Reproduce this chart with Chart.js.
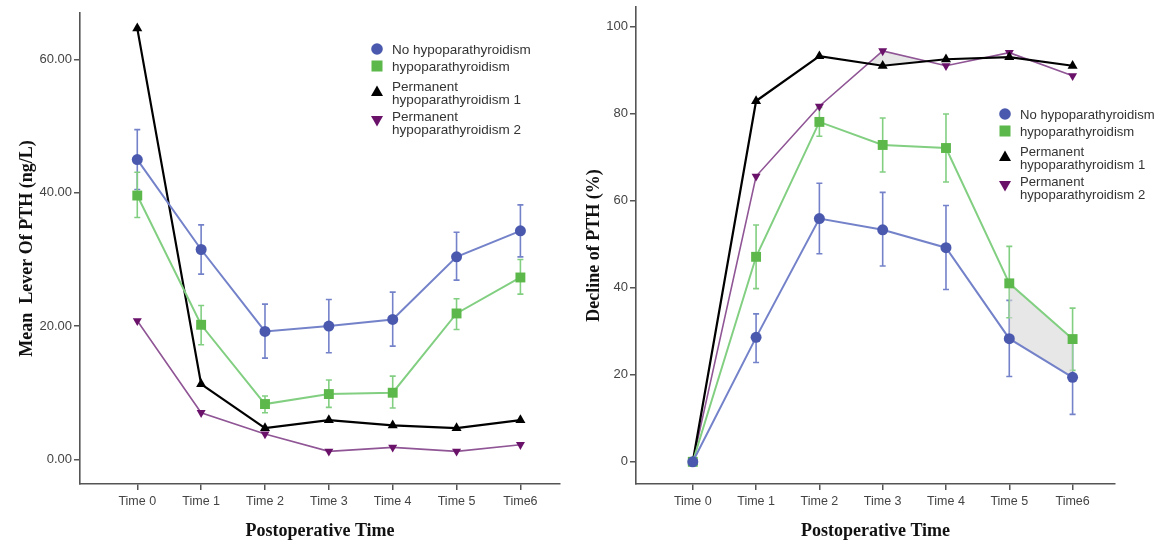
<!DOCTYPE html>
<html><head><meta charset="utf-8">
<script src="https://cdn.jsdelivr.net/npm/chart.js@4"></script>
<style>
html,body{margin:0;padding:0;background:#fff;width:1158px;height:543px;overflow:hidden}
#wrap{position:relative;width:1158px;height:543px;background:#fff}
canvas{position:absolute;top:0}
.legend{position:absolute;font-family:"Liberation Sans",Arial,sans-serif;font-size:13.5px;color:#333;line-height:13.3px}
.item{position:absolute;left:0;white-space:pre}
.item svg{position:absolute;overflow:visible}
</style></head>
<body><div id="wrap">
<canvas id="c1" width="580" height="543" style="left:0"></canvas>
<canvas id="c2" width="578" height="543" style="left:580px"></canvas>
<div id="leg1" class="legend" style="left:392px;top:42.5px"></div>
<div id="leg2" class="legend" style="left:1020px;top:107.5px;font-size:13.1px"></div>
</div>
<script>
// ---------- data ----------
const categories = ['Time 0','Time 1','Time 2','Time 3','Time 4','Time 5','Time6'];
const seriesNames = ['No hypoparathyroidism','hypoparathyroidism','Permanent\nhypoparathyroidism 1','Permanent\nhypoparathyroidism 2'];

// Left chart: Mean level of PTH (ng/L)
const levelNoHypo     = [45.0, 31.5, 19.2, 20.0, 21.0, 30.4, 34.3];
const levelNoHypoLow  = [40.5, 27.8, 15.2, 16.0, 17.0, 26.9, 30.4];
const levelNoHypoHigh = [49.5, 35.2, 23.3, 24.0, 25.1, 34.1, 38.2];
const levelHypo       = [39.6, 20.2, 8.3, 9.8, 10.0, 21.9, 27.3];
const levelHypoLow    = [36.3, 17.2, 7.0, 7.8, 7.7, 19.5, 24.8];
const levelHypoHigh   = [43.1, 23.1, 9.5, 11.9, 12.5, 24.1, 30.0];
const levelPerm1      = [64.7, 11.3, 4.7, 5.9, 5.1, 4.7, 5.9];
const levelPerm2      = [20.8, 7.0, 3.8, 1.2, 1.8, 1.2, 2.2];
const levelTicks      = [0, 20, 40, 60];

// Right chart: Decline of PTH (%)
const declineNoHypo     = [0, 28.6, 55.9, 53.3, 49.2, 28.3, 19.4];
const declineNoHypoLow  = [0, 22.8, 47.8, 45.0, 39.6, 19.6, 10.9];
const declineNoHypoHigh = [0, 34.0, 64.0, 61.9, 58.9, 37.1, 27.9];
const declineHypo       = [0, 47.1, 78.1, 72.8, 72.1, 41.0, 28.2];
const declineHypoLow    = [0, 39.8, 74.8, 66.6, 64.3, 33.1, 21.0];
const declineHypoHigh   = [0, 54.4, 81.4, 79.0, 79.9, 49.5, 35.3];
const declinePerm1      = [0, 82.9, 93.2, 91.0, 92.5, 93.0, 91.0];
const declinePerm2      = [0, 65.6, 81.7, 94.4, 91.0, 94.0, 88.7];
const declineTicks      = [0, 20, 40, 60, 80, 100];

// ---------- styles ----------
const styles = [
  {line:'#7482c9', point:'#4a59ae', pointStyle:'circle', radius:5.5, rot:0, width:2},
  {line:'#82cf82', point:'#5cb84a', pointStyle:'rect', radius:7, rot:0, width:2},
  {line:'#000000', point:'#000000', pointStyle:'triangle', radius:5.8, rot:0, width:2.2},
  {line:'#8f5595', point:'#6a116a', pointStyle:'triangle', radius:5.2, rot:180, width:1.6}
];
const toXY = (arr, start=0) => arr.map((v,i)=>({x:i+start, y:v}));

function makeDatasets(series, lows, highs){
  return series.map((s,k)=>({
    label: seriesNames[k],
    data: toXY(s),
    borderColor: styles[k].line,
    backgroundColor: styles[k].point,
    pointBackgroundColor: styles[k].point,
    pointBorderColor: styles[k].point,
    pointBorderWidth: 0,
    pointStyle: styles[k].pointStyle,
    pointRadius: styles[k].radius,
    pointRotation: styles[k].rot,
    borderWidth: styles[k].width,
    tension: 0,
    fill: false,
    errLow: lows[k],
    errHigh: highs[k],
    errColor: styles[k].line
  }));
}

const errorBars = {
  id:'errorBars',
  beforeDatasetsDraw(chart){
    const {ctx, scales:{x,y}} = chart;
    ctx.save();
    chart.data.datasets.forEach(ds=>{
      if(!ds.errLow) return;
      ctx.strokeStyle = ds.errColor;
      ctx.lineWidth = 1.6;
      ds.errLow.forEach((lo,i)=>{
        const hi = ds.errHigh[i];
        if(lo===hi) return;
        const px = x.getPixelForValue(i);
        const py1 = y.getPixelForValue(lo), py2 = y.getPixelForValue(hi);
        ctx.beginPath();
        ctx.moveTo(px,py1); ctx.lineTo(px,py2);
        ctx.moveTo(px-3,py1); ctx.lineTo(px+3,py1);
        ctx.moveTo(px-3,py2); ctx.lineTo(px+3,py2);
        ctx.stroke();
      });
    });
    ctx.restore();
  }
};

const axisColor = '#555';
function makeOptions(cfg){
  return {
    responsive:false, animation:false,
    layout:{padding:{left:0, right:cfg.padRight, top:cfg.padTop, bottom:0}},
    plugins:{legend:{display:false}, tooltip:{enabled:false}},
    scales:{
      x:{
        type:'linear', min:-0.897, max:cfg.xMax,
        afterBuildTicks:s=>{ s.ticks = categories.map((c,i)=>({value:i})); },
        afterFit:s=>{ s.height = 59; s.paddingLeft = 0; s.paddingRight = 0; },
        grid:{drawOnChartArea:false, drawTicks:true, tickLength:6, color:axisColor, lineWidth:1.5},
        border:{display:true, color:axisColor, width:1.6},
        ticks:{autoSkip:false, maxRotation:0, padding:4, color:'#444',
          font:{family:'"Liberation Sans", Arial, sans-serif', size:12.5},
          callback:v=>categories[v]},
        title:{display:true, text:'Postoperative Time', color:'#111',
          font:{family:'"Liberation Serif", "Times New Roman", serif', size:18, weight:'bold'},
          padding:{top:0, bottom:1}}
      },
      y:{
        min:cfg.yMin, max:cfg.yMax,
        afterBuildTicks:s=>{ s.ticks = cfg.ticks.map(v=>({value:v})); },
        afterFit:s=>{ s.width = cfg.yWidth; s.paddingTop = 0; s.paddingBottom = 0; },
        grid:{drawOnChartArea:false, drawTicks:true, tickLength:6, color:axisColor, lineWidth:1.5},
        border:{display:true, color:axisColor, width:1.6},
        ticks:{padding:2, color:'#444',
          font:{family:'"Liberation Sans", Arial, sans-serif', size:13},
          callback:v=>cfg.fmt(v)},
        title:{display:true, text:cfg.yTitle, color:'#111',
          font:{family:'"Liberation Serif", "Times New Roman", serif', size:18, weight:'bold'},
          padding:{top:cfg.titlePad, bottom:0}}
      }
    }
  };
}

// Left chart
new Chart(document.getElementById('c1'), {
  type:'line',
  data:{datasets: makeDatasets(
    [levelNoHypo, levelHypo, levelPerm1, levelPerm2],
    [levelNoHypoLow, levelHypoLow, null, null],
    [levelNoHypoHigh, levelHypoHigh, null, null])},
  options: makeOptions({padRight:20, padTop:13, xMax:6.62, yMin:-3.7, yMax:67, ticks:levelTicks,
    yWidth:80, fmt:v=>v.toFixed(2), yTitle:'Mean  Lever Of PTH (ng/L)', titlePad:17}),
  plugins:[errorBars]
});

// Right chart
const ds2 = makeDatasets(
  [declineNoHypo, declineHypo, declinePerm1, declinePerm2],
  [declineNoHypoLow, declineHypoLow, null, null],
  [declineNoHypoHigh, declineHypoHigh, null, null]);
const shade = 'rgba(215,215,215,0.6)';
const helper = (data, fill) => ({data, borderWidth:0, pointRadius:0, fill, backgroundColor:shade, borderColor:'rgba(0,0,0,0)', tension:0});
ds2.push(helper(toXY(declineHypo.slice(5),5), 5));
ds2.push(helper(toXY(declineNoHypo.slice(5),5), false));
ds2.push(helper(toXY(declinePerm2.slice(2,5),2), {target:7, above:shade, below:'rgba(0,0,0,0)'}));
ds2.push(helper(toXY(declinePerm1.slice(2,5),2), false));

new Chart(document.getElementById('c2'), {
  type:'line',
  data:{datasets: ds2},
  options: makeOptions({padRight:43, padTop:4, xMax:6.67, yMin:-5.1, yMax:104.5, ticks:declineTicks,
    yWidth:56, fmt:v=>String(v), yTitle:'Decline of PTH (%)', titlePad:4}),
  plugins:[errorBars]
});

// ---------- legends ----------
const rowTops = [0, 17.4, 37.2, 67.5];
function markerSvg(k){
  const c = styles[k].point;
  if(k===0) return `<svg width="12" height="12" viewBox="0 0 12 12"><circle cx="6" cy="6" r="5.8" fill="${c}"/></svg>`;
  if(k===1) return `<svg width="12" height="12" viewBox="0 0 12 12"><rect x="0.5" y="0.5" width="11" height="11" fill="${c}"/></svg>`;
  if(k===2) return `<svg width="12" height="12" viewBox="0 0 12 12"><polygon points="6,0.5 12,11 0,11" fill="${c}"/></svg>`;
  return `<svg width="12" height="12" viewBox="0 0 12 12"><polygon points="0,1 12,1 6,11.5" fill="${c}"/></svg>`;
}
function buildLegend(id){
  const el = document.getElementById(id);
  seriesNames.forEach((name,k)=>{
    const d = document.createElement('div');
    d.className='item';
    d.style.top = rowTops[k]+'px';
    const multi = name.includes('\n');
    d.innerHTML = markerSvg(k).replace('<svg', `<svg style="left:-21px;top:${multi?5:0.5}px"`);
    const t = document.createElement('span');
    t.textContent = name;
    d.appendChild(t);
    el.appendChild(d);
  });
}
buildLegend('leg1');
buildLegend('leg2');
</script>
</body></html>
